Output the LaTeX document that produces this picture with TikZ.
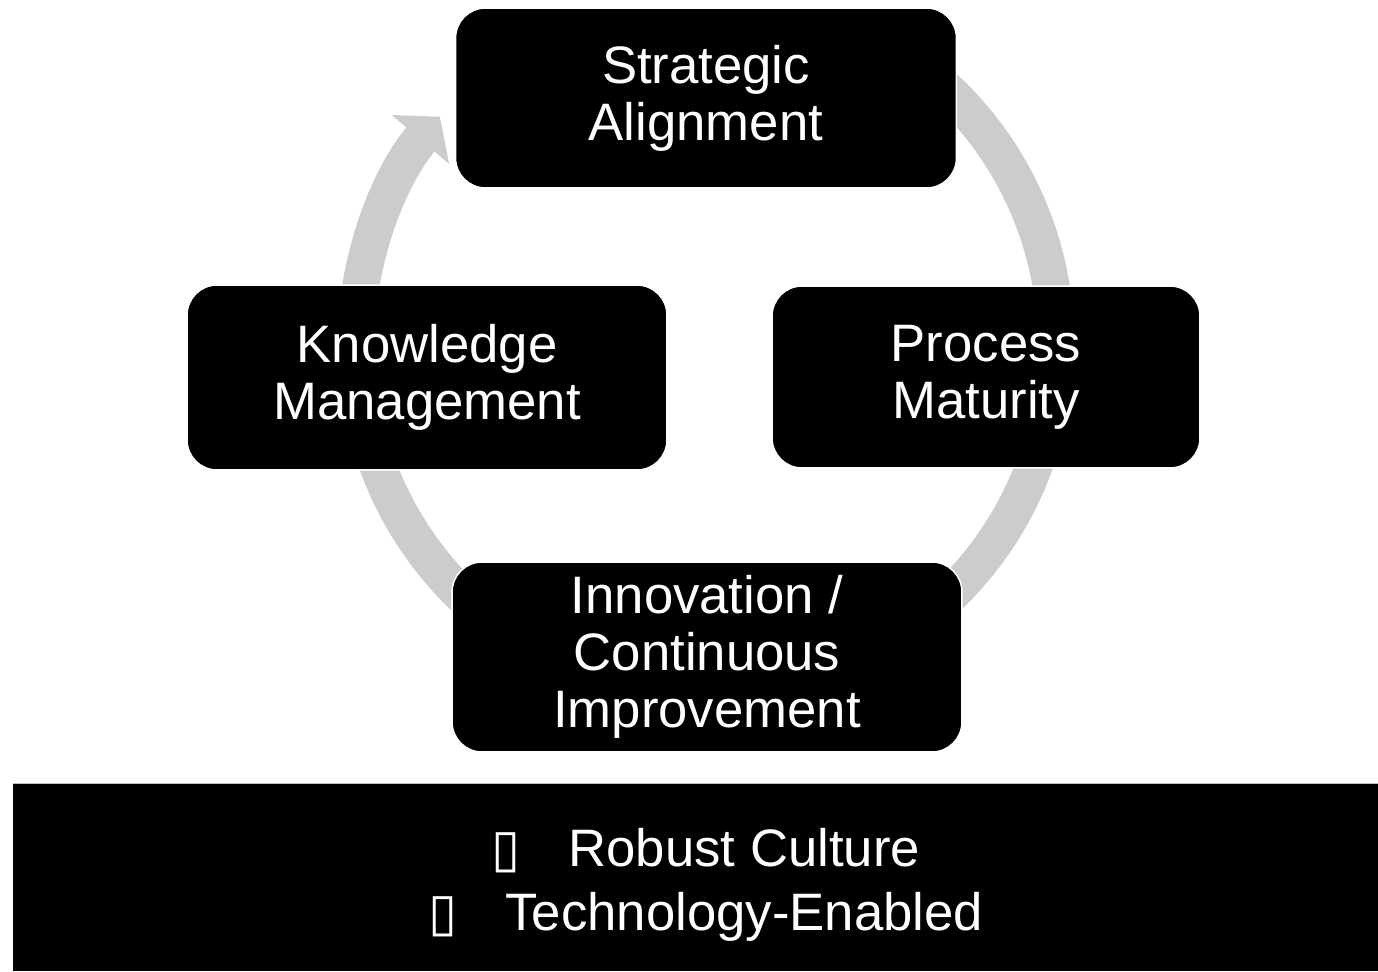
\documentclass[tikz,border=0pt]{standalone}
\usepackage{fontspec}
\setmainfont{Liberation Sans}
\newfontfamily\symfont{DejaVu Sans}
\usetikzlibrary{arrows.meta}
\definecolor{ringgray}{RGB}{204,204,204}
\newcommand{\tofubox}{{\symfont ▯}}
\begin{document}
\begin{tikzpicture}[x=0.02cm,y=-0.02cm,
    stage/.style={fill=black,draw=white,line width=0.03cm,rounded corners=0.6cm,
      text=white,align=center,inner sep=0pt,font=\fontsize{30}{32.4}\selectfont},
    ring/.style={draw=ringgray,line width=0.74cm}]
    \useasboundingbox (0,0) rectangle (1378,971);
    % cycle arcs, drawn below the boxes
    \draw[ring] (706,344) ++(-50:350) arc (-50:0:350);
    \draw[ring] (706,344) ++(10:350) arc (10:50:350);
    \draw[ring] (706,344) ++(130:350) arc (130:175:350);
    \draw[ring,-{Triangle[width=1.48cm,length=0.6cm]}] (706,344) ++(185:350) arc (185:220.5:350);
    \node[stage,minimum width=10.02cm,minimum height=3.6cm] (align) at (706,98) {Strategic\\Alignment};
    \node[stage,minimum width=9.6cm,minimum height=3.7cm] (knowledge) at (427,377.5) {Knowledge\\Management};
    \node[stage,minimum width=8.56cm,minimum height=3.64cm] (process) at (986,377) {Process\\Maturity};
    \node[stage,minimum width=10.2cm,minimum height=3.8cm] (innovation) at (707,657) {Innovation /\\Continuous\\Improvement};
    % base bar
    \node[fill=black,inner sep=0pt,minimum width=27.3cm,minimum height=3.74cm] (base) at (695.5,877.5) {};
    \draw[gray!50,line width=0.02cm] (base.north west) -- (base.north east);
    \node[text=white,align=center,inner sep=0pt,font=\fontsize{30}{36.3}\selectfont]
      (basetext) at (706,885) {\tofubox\hspace{0.95cm}Robust Culture\\\tofubox\hspace{0.95cm}Technology-Enabled};
\end{tikzpicture}
\end{document}
